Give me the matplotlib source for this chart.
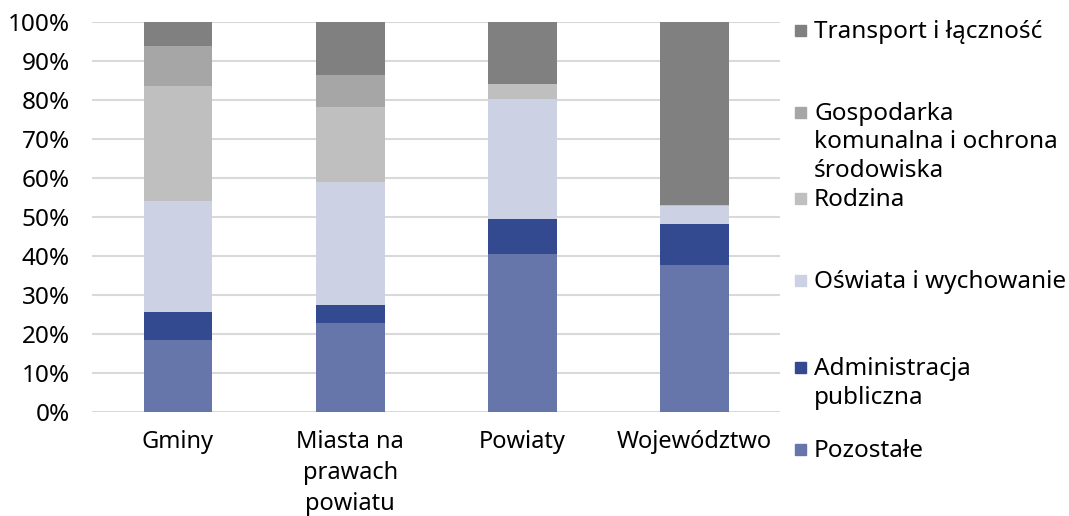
import matplotlib.pyplot as plt
from matplotlib.patches import Rectangle
import numpy as np

plt.rcParams['font.family'] = ['Noto Sans', 'DejaVu Sans']

kategorie = ['Gminy', 'Miasta na\nprawach\npowiatu', 'Powiaty', 'Województwo']

# udzialy w %, od dolu
pozostale = [18.4, 22.8, 40.4, 37.8]
administracja = [7.2, 4.6, 9.1, 10.4]
oswiata = [28.4, 31.6, 30.9, 4.6]
rodzina = [29.5, 19.3, 3.8, 0.2]
gospodarka = [10.3, 8.2, 0.0, 0.1]
transport = [6.2, 13.5, 15.8, 46.9]

serie = [
    ('Pozostałe', pozostale, '#6675aa'),
    ('Administracja\npubliczna', administracja, '#334a91'),
    ('Oświata i wychowanie', oswiata, '#ccd2e4'),
    ('Rodzina', rodzina, '#bfbfbf'),
    ('Gospodarka\nkomunalna i ochrona\nśrodowiska', gospodarka, '#a6a6a6'),
    ('Transport i łączność', transport, '#808080'),
]

fig = plt.figure(figsize=(10.69, 5.16), dpi=100)
ax = fig.add_axes([0.086, 0.202, 0.644, 0.755])

x = np.arange(len(kategorie))
dol = np.zeros(len(kategorie))
for nazwa, wart, kolor in serie:
    ax.bar(x, wart, bottom=dol, width=0.4, color=kolor, zorder=3)
    dol += np.array(wart)

ax.set_xlim(-0.5, len(kategorie) - 0.5)
ax.set_ylim(0, 100)
ax.set_yticks(np.arange(0, 101, 10))
ax.set_yticklabels([f'{v}%' for v in range(0, 101, 10)], fontsize=17.5)
ax.set_xticks(x)
ax.set_xticklabels(kategorie, fontsize=17, linespacing=1.4)
ax.tick_params(axis='y', length=0, pad=16)
ax.tick_params(axis='x', length=0, pad=13)
ax.grid(axis='y', color='#d9d9d9', linewidth=1.5, zorder=0)
for s in ax.spines.values():
    s.set_visible(False)

# legenda po prawej, od gory
leg_y = [30, 112, 198, 280, 367, 449]
for (nazwa, wart, kolor), yp in zip(serie[::-1], leg_y):
    fy = 1 - yp / 516
    fig.patches.append(Rectangle((795 / 1069, fy - 6 / 516), 11 / 1069, 11 / 516,
                                 transform=fig.transFigure, color=kolor))
    fig.text(814 / 1069, fy + 10 / 516, nazwa, fontsize=17.5, va='top', ha='left',
             linespacing=1.25)

fig.savefig('out.png', dpi=100)
